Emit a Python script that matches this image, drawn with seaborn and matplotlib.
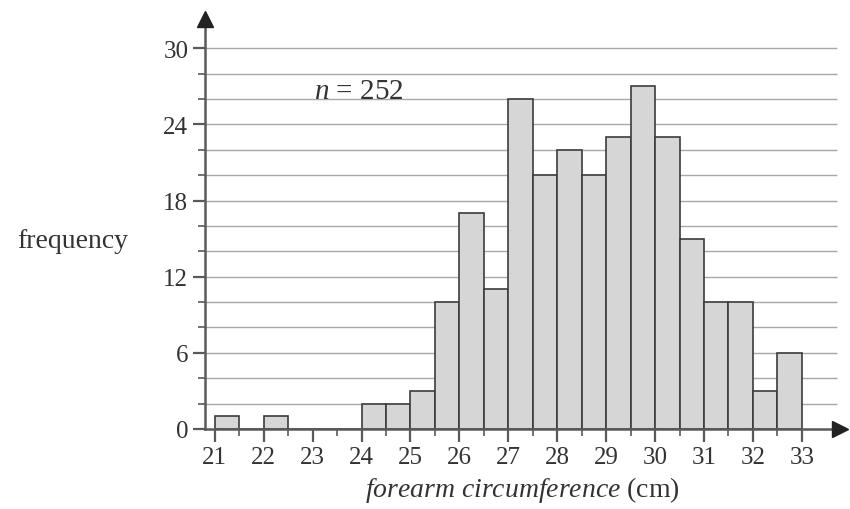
import matplotlib
matplotlib.use("Agg")
import matplotlib.pyplot as plt
import seaborn as sns
import numpy as np

# bin edges (cm) and frequencies
bin_edges = [21.0, 21.5, 22.0, 22.5, 23.0, 23.5, 24.0, 24.5, 25.0, 25.5, 26.0, 26.5,
             27.0, 27.5, 28.0, 28.5, 29.0, 29.5, 30.0, 30.5, 31.0, 31.5, 32.0, 32.5, 33.0]
frequencies = [1, 0, 1, 0, 0, 0, 2, 2, 3, 10, 17, 11,
               26, 20, 22, 20, 23, 27, 23, 15, 10, 10, 3, 6]
x_ticks = [21, 22, 23, 24, 25, 26, 27, 28, 29, 30, 31, 32, 33]
y_ticks = [0, 6, 12, 18, 24, 30]
sample_label = "252"

sns.set_style("white")
plt.rcParams["font.family"] = ["Liberation Serif", "DejaVu Serif"]
plt.rcParams["mathtext.fontset"] = "custom"
plt.rcParams["mathtext.rm"] = "Liberation Serif"
plt.rcParams["mathtext.it"] = "Liberation Serif:italic"

axis_col = "#5a5a5a"
text_col = "#333333"

fig = plt.figure(figsize=(8.5, 5.1), dpi=100)
ax = fig.add_axes([205 / 850, 80 / 510, 635 / 850, 410 / 510])

mids = [(a + b) / 2 for a, b in zip(bin_edges[:-1], bin_edges[1:])]

# horizontal grid every 2
ax.hlines(np.arange(2, 32, 2), 20.8, 33.72, color="#a8a8a8", lw=1.0, zorder=0)

sns.histplot(x=mids, weights=frequencies, bins=bin_edges, ax=ax,
             color="#d6d6d6", edgecolor="#3c3c3c", linewidth=1.2, alpha=1, zorder=2)

ax.set_xlim(20.8, 33.78)
ax.set_ylim(0, 32.3)

for s in ["top", "right"]:
    ax.spines[s].set_visible(False)
for s in ["left", "bottom"]:
    ax.spines[s].set_color(axis_col)
    ax.spines[s].set_linewidth(1.8)
    ax.spines[s].set_zorder(3)

# arrow heads
ax.plot(1, 0, ">", transform=ax.get_yaxis_transform(), color="#222222",
        markersize=11, clip_on=False, zorder=4)
ax.plot(0, 1, "^", transform=ax.transAxes, color="#222222",
        markersize=11, clip_on=False, zorder=4)

ax.set_xticks(x_ticks)
ax.set_xticks(np.arange(21.5, 33, 1), minor=True)
ax.set_yticks(y_ticks)
ax.set_yticks(np.arange(2, 32, 2), minor=True)
ax.tick_params(axis="both", which="major", direction="out", length=9, width=1.6,
               color=axis_col, labelsize=18, labelcolor=text_col, pad=3, left=True, bottom=True)
ax.tick_params(axis="both", which="minor", direction="out", length=5, width=1.2,
               color=axis_col, left=True, bottom=True)

ax.set_ylabel("frequency", rotation=0, fontsize=20, color=text_col,
              ha="center", va="center")
ax.yaxis.set_label_coords(-0.208, 0.46)
ax.set_xlabel(r"$\mathit{forearm\ circumference}$ (cm)", fontsize=20, color=text_col)
ax.xaxis.set_label_coords(0.5, -0.11)

ax.text(23.95, 26.6, r"$n$ = " + sample_label, fontsize=21, color=text_col,
        ha="center", va="center")

fig.savefig("out.png", dpi=100)
